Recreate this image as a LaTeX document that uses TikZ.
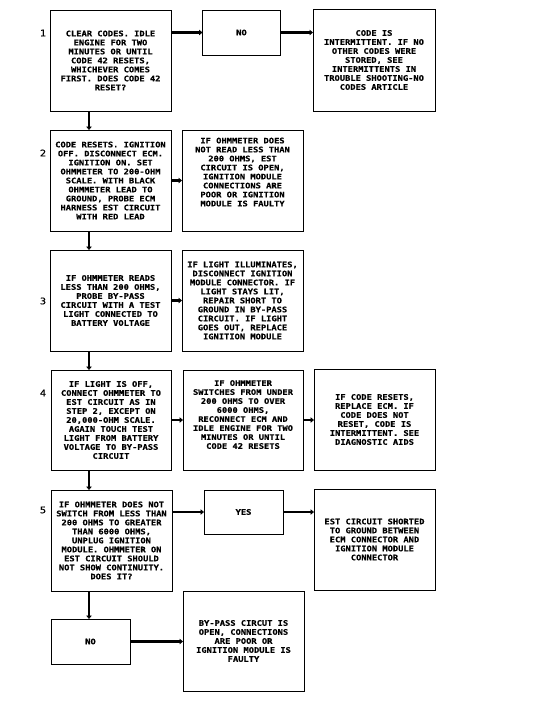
\documentclass[tikz,border=0pt]{standalone}
\usepackage{fontspec}
\newfontfamily\boxfont[FakeStretch=1.15,FakeBold=0.4]{DejaVu Sans Mono}
\usetikzlibrary{arrows.meta}
\tikzset{
  box/.style={draw, line width=0.9pt, inner sep=0pt, outer sep=0pt, align=center,
    font=\boxfont\bfseries\fontsize{7.6pt}{9pt}\selectfont},
  bigbox/.style={box, minimum width=121pt, minimum height=101pt},
  smallbox/.style={box, minimum width=78pt, minimum height=45pt},
  arr/.style={line width=2.6pt, -{Triangle[length=3.5pt,width=5.5pt]}},
  steplabel/.style={font=\boxfont\fontsize{9pt}{9pt}\selectfont, inner sep=0pt}
}
\begin{document}
\begin{tikzpicture}[x=1pt,y=-1pt]
\useasboundingbox[fill=white] (0,0) rectangle (548,710);

% row 1
\node[bigbox] (b1) at (110.5,60.5) {CLEAR CODES. IDLE\\ENGINE FOR TWO\\MINUTES OR UNTIL\\CODE 42 RESETS,\\WHICHEVER COMES\\FIRST. DOES CODE 42\\RESET?};
\node[smallbox] (no1) at (241.5,32.5) {NO};
\node[bigbox, minimum width=122pt, minimum height=102pt] (c1) at (374,60) {CODE IS\\INTERMITTENT. IF NO\\OTHER CODES WERE\\STORED, SEE\\INTERMITTENTS IN\\TROUBLE SHOOTING-NO\\CODES ARTICLE};

% row 2
\node[bigbox] (b2) at (110.5,180.5) {CODE RESETS. IGNITION\\OFF. DISCONNECT ECM.\\IGNITION ON. SET\\OHMMETER TO 200-OHM\\SCALE. WITH BLACK\\OHMMETER LEAD TO\\GROUND, PROBE ECM\\HARNESS EST CIRCUIT\\WITH RED LEAD};
\node[bigbox] (r2) at (242.5,180.5) {IF OHMMETER DOES\\NOT READ LESS THAN\\200 OHMS, EST\\CIRCUIT IS OPEN,\\IGNITION MODULE\\CONNECTIONS ARE\\POOR OR IGNITION\\MODULE IS FAULTY\\[8pt]};

% row 3
\node[bigbox] (b3) at (110.5,300.5) {IF OHMMETER READS\\LESS THAN 200 OHMS,\\PROBE BY-PASS\\CIRCUIT WITH A TEST\\LIGHT CONNECTED TO\\BATTERY VOLTAGE};
\node[bigbox] (r3) at (242.5,300.5) {IF LIGHT ILLUMINATES,\\DISCONNECT IGNITION\\MODULE CONNECTOR. IF\\LIGHT STAYS LIT,\\REPAIR SHORT TO\\GROUND IN BY-PASS\\CIRCUIT. IF LIGHT\\GOES OUT, REPLACE\\IGNITION MODULE};

% row 4
\node[bigbox, minimum width=120pt, minimum height=100pt] (b4) at (111,420) {IF LIGHT IS OFF,\\CONNECT OHMMETER TO\\EST CIRCUIT AS IN\\STEP 2, EXCEPT ON\\20,000-OHM SCALE.\\AGAIN TOUCH TEST\\LIGHT FROM BATTERY\\VOLTAGE TO BY-PASS\\CIRCUIT};
\node[bigbox, minimum width=120pt, minimum height=100pt] (m4) at (243,420) {IF OHMMETER\\SWITCHES FROM UNDER\\200 OHMS TO OVER\\6000 OHMS,\\RECONNECT ECM AND\\IDLE ENGINE FOR TWO\\MINUTES OR UNTIL\\CODE 42 RESETS\\[2pt]};
\node[bigbox] (r4) at (374.5,419.5) {IF CODE RESETS,\\REPLACE ECM. IF\\CODE DOES NOT\\RESET, CODE IS\\INTERMITTENT. SEE\\DIAGNOSTIC AIDS};

% row 5
\node[bigbox] (b5) at (111.5,540.5) {IF OHMMETER DOES NOT\\SWITCH FROM LESS THAN\\200 OHMS TO GREATER\\THAN 6000 OHMS,\\UNPLUG IGNITION\\MODULE. OHMMETER ON\\EST CIRCUIT SHOULD\\NOT SHOW CONTINUITY.\\DOES IT?};
\node[smallbox, minimum width=79pt, minimum height=44pt] (yes) at (243.5,512) {YES};
\node[bigbox] (r5) at (374.5,539.5) {EST CIRCUIT SHORTED\\TO GROUND BETWEEN\\ECM CONNECTOR AND\\IGNITION MODULE\\CONNECTOR};

% bottom
\node[smallbox, minimum width=79pt] (no2) at (90.5,641.5) {NO};
\node[bigbox, minimum height=100pt] (bp) at (243.5,641) {BY-PASS CIRCUT IS\\OPEN, CONNECTIONS\\ARE POOR OR\\IGNITION MODULE IS\\FAULTY};

% step numbers
\node[steplabel] (n1) at (43,33) {1};
\node[steplabel] (n2) at (43,153) {2};
\node[steplabel] (n3) at (43,301) {3};
\node[steplabel] (n4) at (43,393) {4};
\node[steplabel] (n5) at (43,510) {5};

% horizontal connectors
\draw[arr] (b1.east |- no1.west) -- (no1.west);
\draw[arr] (no1.east) -- (no1.east -| c1.west);
\draw[arr] (b2.east) -- (r2.west);
\draw[arr] (b3.east) -- (b3.east -| r3.west);
\draw[arr] (b4.east) -- (m4.west);
\draw[arr] (m4.east) -- (m4.east -| r4.west);
\draw[arr] (b5.east |- yes.west) -- (yes.west);
\draw[arr] (yes.east) -- (yes.east -| r5.west);
\draw[arr] (no2.east) -- (no2.east -| bp.west);

% vertical connectors
\draw[arr] (b1.south -| 89,0) -- (b2.north -| 89,0);
\draw[arr] (b2.south -| 89,0) -- (b3.north -| 89,0);
\draw[arr] (b3.south -| 89,0) -- (b4.north -| 89,0);
\draw[arr] (b4.south -| 89,0) -- (b5.north -| 89,0);
\draw[arr] (b5.south -| 89,0) -- (no2.north -| 89,0);
\end{tikzpicture}
\end{document}
